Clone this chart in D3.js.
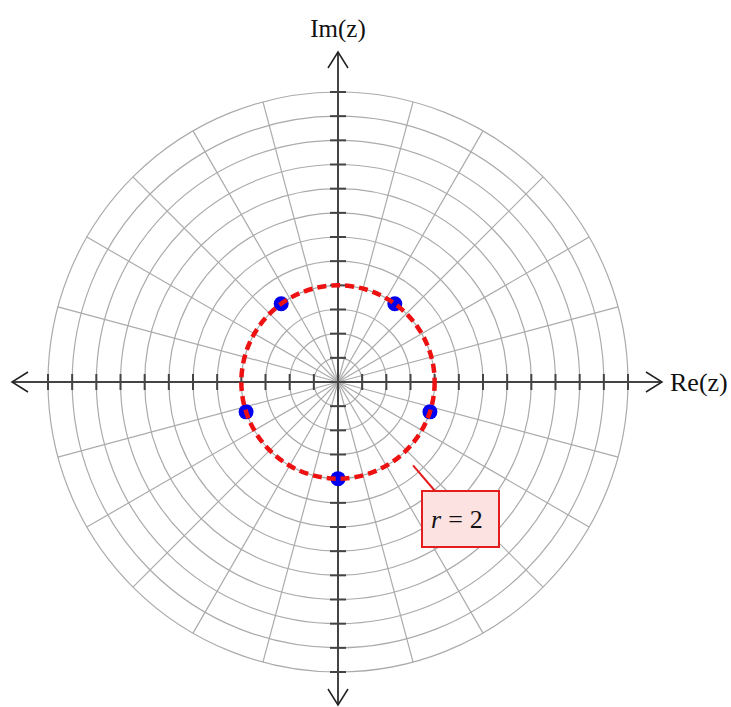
<!DOCTYPE html>
<html>
<head>
<meta charset="utf-8">
<script src="https://cdn.jsdelivr.net/npm/d3@7"></script>
<style>
  body { margin: 0; background: white; }
  svg { display: block; }
  text { font-family: "Liberation Serif", "DejaVu Serif", serif; }
</style>
</head>
<body>
<svg id="chart" width="731" height="707"></svg>
<script>
// grid and data
var ringRadii = [0.5, 1, 1.5, 2, 2.5, 3, 3.5, 4, 4.5, 5, 5.5, 6];
var spokeAngles = [0, 15, 30, 45, 60, 75, 90, 105, 120, 135, 150, 165, 180, 195, 210, 225, 240, 255, 270, 285, 300, 315, 330, 345];
var axisTicks = [-6, -5.5, -5, -4.5, -4, -3.5, -3, -2.5, -2, -1.5, -1, -0.5, 0.5, 1, 1.5, 2, 2.5, 3, 3.5, 4, 4.5, 5, 5.5, 6];
var rootModulus = [2, 2, 2, 2, 2];
var rootAngles = [-90, -18, 54, 126, 198];
var circleRadius = 2;
var labelText = ['r', '=', '2'];

var svg = d3.select('#chart');
var centre = { x: 338, y: 382 };
var R = 290;

var x = d3.scaleLinear().domain([-6, 6]).range([centre.x - R, centre.x + R]);
var y = d3.scaleLinear().domain([-6, 6]).range([centre.y + R, centre.y - R]);
var r = d3.scaleLinear().domain([0, 6]).range([0, R]);
var line = d3.line().x(d => d.x).y(d => d.y);

function polar(mod, deg) {
  var a = deg * Math.PI / 180;
  return { x: x(mod * Math.cos(a)), y: y(mod * Math.sin(a)) };
}

/* polar grid */
var grid = svg.append('g');
grid.selectAll('line.spoke').data(spokeAngles).enter().append('line')
  .attr('class', 'spoke')
  .attr('x1', centre.x).attr('y1', centre.y)
  .attr('x2', d => polar(6, d).x).attr('y2', d => polar(6, d).y)
  .style('stroke', '#ababab').style('stroke-width', 1.2);
grid.selectAll('circle.ring').data(ringRadii).enter().append('circle')
  .attr('class', 'ring')
  .attr('cx', centre.x).attr('cy', centre.y).attr('r', d => r(d))
  .style('fill', 'none').style('stroke', '#ababab').style('stroke-width', 1.2);

/* axes */
var axisColor = '#444';
var ext = 326;
svg.append('line')
  .attr('x1', centre.x - ext).attr('y1', centre.y).attr('x2', centre.x + ext - 2).attr('y2', centre.y)
  .style('stroke', axisColor).style('stroke-width', 2);
svg.append('line')
  .attr('x1', centre.x).attr('y1', centre.y - ext - 4).attr('x2', centre.x).attr('y2', centre.y + ext - 3)
  .style('stroke', axisColor).style('stroke-width', 2);

// ticks
svg.selectAll('line.xt').data(axisTicks).enter().append('line')
  .attr('class', 'xt')
  .attr('x1', d => x(d)).attr('x2', d => x(d))
  .attr('y1', centre.y - 8).attr('y2', centre.y + 8)
  .style('stroke', axisColor).style('stroke-width', 2);
svg.selectAll('line.yt').data(axisTicks).enter().append('line')
  .attr('class', 'yt')
  .attr('y1', d => y(d)).attr('y2', d => y(d))
  .attr('x1', centre.x - 8).attr('x2', centre.x + 8)
  .style('stroke', axisColor).style('stroke-width', 2);

// arrow heads (open chevrons)
var arrows = [
  [{x: centre.x - ext + 16, y: centre.y - 10}, {x: centre.x - ext, y: centre.y}, {x: centre.x - ext + 16, y: centre.y + 10}],
  [{x: centre.x + ext - 18, y: centre.y - 10}, {x: centre.x + ext - 2, y: centre.y}, {x: centre.x + ext - 18, y: centre.y + 10}],
  [{x: centre.x - 10, y: centre.y - ext + 12}, {x: centre.x, y: centre.y - ext - 4}, {x: centre.x + 10, y: centre.y - ext + 12}],
  [{x: centre.x - 10, y: centre.y + ext - 19}, {x: centre.x, y: centre.y + ext - 3}, {x: centre.x + 10, y: centre.y + ext - 19}]
];
svg.selectAll('path.arrow').data(arrows).enter().append('path')
  .attr('class', 'arrow')
  .attr('d', d => line(d))
  .style('fill', 'none').style('stroke', '#222').style('stroke-width', 1.5);

svg.append('text').attr('x', centre.x).attr('y', 37)
  .style('text-anchor', 'middle').style('font-size', '25px').style('fill', '#111').text('Im(z)');
svg.append('text').attr('x', 670).attr('y', 391)
  .style('text-anchor', 'start').style('font-size', '26px').style('fill', '#111').text('Re(z)');

/* roots */
var roots = rootAngles.map((a, i) => polar(rootModulus[i], a));
svg.selectAll('circle.root').data(roots).enter().append('circle')
  .attr('class', 'root')
  .attr('cx', d => d.x).attr('cy', d => d.y).attr('r', 7.5)
  .style('fill', '#0000ee');

/* dashed circle r = 2 */
svg.append('circle')
  .attr('cx', centre.x).attr('cy', centre.y).attr('r', r(circleRadius))
  .style('fill', 'none').style('stroke', '#ee1111').style('stroke-width', 4.5)
  .style('stroke-dasharray', '9,5');

/* label */
var lead = [polar(circleRadius + 0.32, -48), {x: 435, y: 491}];
svg.append('path').attr('d', line(lead))
  .style('stroke', '#e51c1c').style('stroke-width', 2).style('fill', 'none');
svg.append('rect')
  .attr('x', 422).attr('y', 491).attr('width', 77).attr('height', 56)
  .style('fill', '#fde2e2').style('stroke', '#e51c1c').style('stroke-width', 2);
var lbl = svg.append('text').attr('x', 431).attr('y', 528)
  .style('font-size', '26px').style('fill', '#111');
lbl.append('tspan').style('font-style', 'italic').text(labelText[0]);
lbl.append('tspan').attr('dx', 7).text(labelText[1]);
lbl.append('tspan').attr('dx', 7).text(labelText[2]);
</script>
</body>
</html>
